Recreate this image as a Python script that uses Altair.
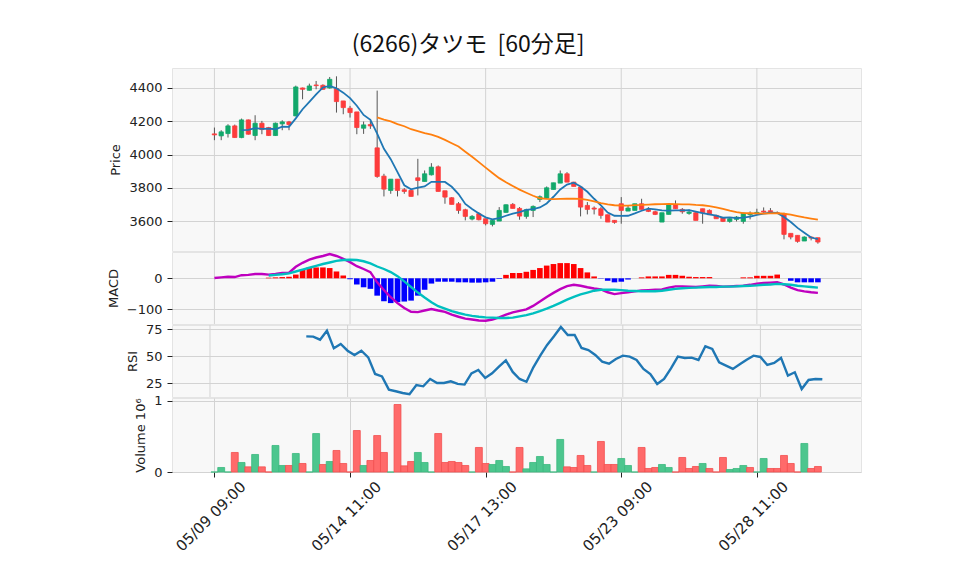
import altair as alt
import pandas as pd

TITLE = "(6266)タツモ\u00a0\u00a0[60分足]"
X_TICKS = [0, 20, 40, 60, 80]
X_LABELS = ["05/09 09:00", "05/14 11:00", "05/17 13:00", "05/23 09:00", "05/28 11:00"]

OPEN = [4124, 4112, 4126, 4172, 4102, 4208, 4114, 4188, 4162, 4114,
        4184, 4196, 4232, 4400, 4386, 4418, 4416, 4400, 4396, 4322,
        4278, 4256, 4158, 4180, 4040, 3870, 3784, 3852, 3788, 3784,
        3860, 3838, 3878, 3926, 3782, 3740, 3704, 3668, 3612, 3644,
        3614, 3580, 3600, 3652, 3700, 3676, 3628, 3664, 3730, 3738,
        3790, 3828, 3884, 3834, 3804, 3694, 3678, 3674, 3638, 3604,
        3704, 3660, 3664, 3704, 3670, 3656, 3594, 3640, 3698, 3670,
        3646, 3650, 3674, 3664, 3634, 3620, 3598, 3610, 3598, 3638,
        3648, 3660, 3662, 3650, 3644, 3526, 3514, 3480, 3504, 3500]
HIGH = [4162, 4146, 4182, 4180, 4216, 4210, 4236, 4202, 4166, 4192,
        4206, 4202, 4414, 4402, 4426, 4442, 4422, 4466, 4470, 4322,
        4292, 4256, 4198, 4204, 4384, 3884, 3852, 3852, 3798, 3784,
        3974, 3904, 3948, 3934, 3782, 3744, 3714, 3674, 3636, 3654,
        3614, 3608, 3684, 3700, 3708, 3684, 3674, 3694, 3754, 3808,
        3830, 3904, 3894, 3834, 3804, 3714, 3688, 3684, 3638, 3606,
        3744, 3694, 3704, 3734, 3684, 3662, 3650, 3704, 3724, 3678,
        3670, 3658, 3674, 3670, 3638, 3620, 3618, 3630, 3650, 3658,
        3674, 3682, 3678, 3658, 3650, 3526, 3514, 3508, 3508, 3500]
LOW = [4086, 4086, 4102, 4100, 4098, 4120, 4086, 4122, 4112, 4112,
       4146, 4146, 4230, 4332, 4384, 4392, 4388, 4396, 4252, 4242,
       4222, 4122, 4124, 4154, 3860, 3748, 3764, 3748, 3764, 3748,
       3754, 3838, 3874, 3778, 3704, 3700, 3644, 3604, 3604, 3604,
       3574, 3568, 3600, 3650, 3676, 3608, 3614, 3624, 3714, 3734,
       3790, 3828, 3834, 3808, 3628, 3640, 3640, 3614, 3594, 3584,
       3584, 3660, 3664, 3670, 3654, 3636, 3594, 3640, 3674, 3644,
       3638, 3604, 3584, 3638, 3614, 3594, 3590, 3598, 3584, 3610,
       3644, 3650, 3648, 3644, 3490, 3490, 3470, 3480, 3484, 3464]
CLOSE = [4118, 4136, 4172, 4102, 4208, 4122, 4188, 4150, 4114, 4188,
         4196, 4180, 4406, 4392, 4412, 4414, 4392, 4452, 4318, 4282,
         4252, 4162, 4178, 4172, 3868, 3792, 3852, 3784, 3778, 3748,
         3844, 3884, 3924, 3778, 3744, 3700, 3664, 3628, 3628, 3608,
         3584, 3604, 3664, 3698, 3676, 3630, 3668, 3688, 3746, 3800,
         3830, 3884, 3834, 3808, 3684, 3670, 3672, 3634, 3594, 3592,
         3664, 3678, 3704, 3670, 3658, 3640, 3650, 3698, 3674, 3656,
         3654, 3604, 3650, 3638, 3614, 3598, 3614, 3624, 3648, 3646,
         3652, 3654, 3648, 3646, 3520, 3504, 3478, 3504, 3498, 3474]
# volume in millions of shares
VOLUME = [0, 0.063, 0, 0.273, 0.133, 0.072, 0.245, 0.072, 0, 0.371,
          0.091, 0.091, 0.259, 0.119, 0, 0.538, 0.105, 0.147, 0.301, 0.119,
          0, 0.580, 0.091, 0.161, 0.510, 0.273, 0, 0.944, 0.086, 0.147,
          0.273, 0.133, 0, 0.538, 0.133, 0.147, 0.133, 0.091, 0, 0.343,
          0.119, 0.105, 0.161, 0.077, 0, 0.343, 0.044, 0.133, 0.217, 0.105,
          0, 0.455, 0.072, 0.063, 0.231, 0.091, 0, 0.427, 0.105, 0.105,
          0.189, 0.091, 0, 0.343, 0.049, 0.063, 0.105, 0.063, 0, 0.203,
          0.049, 0.077, 0.119, 0.049, 0, 0.203, 0.035, 0.049, 0.091, 0.063,
          0, 0.189, 0.049, 0.049, 0.231, 0.119, 0, 0.399, 0.049, 0.077]
MA5 = [None] * 4 + [
    4147, 4148, 4158, 4154, 4156, 4152, 4167, 4166, 4217, 4272,
    4317, 4361, 4403, 4412, 4398, 4372, 4339, 4293, 4238, 4209,
    4126, 4034, 3972, 3894, 3815, 3791, 3801, 3808, 3836, 3836,
    3835, 3806, 3762, 3703, 3673, 3646, 3622, 3610, 3618, 3632,
    3645, 3654, 3667, 3672, 3682, 3706, 3746, 3790, 3819, 3831,
    3808, 3776, 3734, 3694, 3651, 3632, 3631, 3632, 3646, 3662,
    3675, 3670, 3664, 3663, 3664, 3664, 3666, 3657, 3648, 3640,
    3632, 3620, 3622, 3618, 3620, 3626, 3637, 3645, 3650, 3649,
    3624, 3594, 3559, 3530, 3501, 3492]
MA25 = [None] * 24 + [
    4223, 4210, 4199, 4183, 4170, 4152, 4141, 4128, 4119, 4106,
    4088, 4068, 4048, 4017, 3986, 3954, 3921, 3889, 3858, 3833,
    3811, 3789, 3770, 3752, 3737, 3733, 3732, 3733, 3734, 3735,
    3733, 3727, 3719, 3708, 3700, 3695, 3693, 3693, 3696, 3697,
    3699, 3701, 3702, 3703, 3702, 3700, 3700, 3697, 3695, 3690,
    3682, 3673, 3662, 3654, 3648, 3647, 3646, 3645, 3646, 3647,
    3644, 3638, 3630, 3622, 3615, 3608]
MACD = [1, 3, 5, 4, 10, 11, 14, 14, 12, 14,
        17, 18, 37, 50, 60, 67, 72, 78, 72, 63,
        52, 39, 30, 20, -13, -38, -61, -80, -96, -108,
        -109, -104, -99, -104, -108, -117, -124, -130, -133, -136,
        -137, -133, -126, -117, -110, -105, -100, -89, -75, -60,
        -47, -35, -25, -21, -24, -29, -33, -36, -45, -51,
        -48, -45, -42, -39, -38, -37, -36, -30, -26, -26,
        -27, -28, -26, -24, -25, -27, -26, -25, -24, -21,
        -17, -15, -14, -13, -20, -30, -38, -42, -45, -47]
SIGNAL = [None] * 8 + [
    9, 11, 13, 16, 22, 28, 34, 40, 46, 51,
    56, 59, 60, 59, 55, 48, 38, 30, 20, 7,
    -10, -28, -46, -62, -77, -90, -98, -106, -112, -117,
    -121, -124, -126, -127, -128, -128, -127, -123, -119, -113,
    -106, -98, -89, -79, -69, -60, -52, -46, -40, -37,
    -37, -37, -38, -40, -41, -42, -42, -42, -40, -37,
    -34, -32, -31, -30, -29, -28, -28, -27, -27, -26,
    -25, -24, -23, -21, -20, -18, -19, -21, -24, -26,
    -28, -30]
HIST = [None] * 8 + [
    2, 3, 4, 5, 12, 30, 35, 35, 35, 33,
    22, 9, -3, -20, -29, -34, -56, -74, -80, -77,
    -75, -72, -56, -37, -17, -11, -11, -11, -13, -13,
    -14, -14, -13, -11, -2, 11, 17, 17, 21, 27,
    33, 41, 46, 49, 49, 46, 33, 19, 6, -1,
    -8, -13, -11, -4, 0, 3, 6, 6, 6, 11,
    11, 8, 5, 4, 4, 4, 0, 0, 0, 0,
    3, 3, 8, 8, 8, 12, 0, -8, -13, -13,
    -13, -13]
RSI = [None] * 14 + [
    68.5, 68.2, 65.4, 73.7, 57.4, 61.4, 55.2, 51.2, 55.2, 49.0,
    33.6, 31.4, 19.1, 17.6, 16.0, 14.8, 23.4, 22.2, 29.0, 25.3,
    25.3, 26.8, 24.4, 23.8, 34.2, 37.3, 29.9, 34.2, 40.5, 46.3,
    35.5, 29.0, 26.4, 39.8, 50.6, 60.5, 68.5, 77.2, 69.7, 69.7,
    57.7, 55.8, 51.2, 45.0, 43.1, 47.5, 50.6, 49.7, 46.6, 38.3,
    33.6, 24.4, 29.0, 38.9, 49.7, 48.5, 48.8, 46.6, 59.3, 56.8,
    44.4, 41.3, 38.3, 42.6, 46.9, 50.6, 49.4, 42.0, 43.8, 48.5,
    32.1, 35.2, 19.7, 28.1, 29.0, 28.7]

UP, DOWN = "#12a86b", "#fd3c3c"
VUP, VDOWN = "#4cc68e", "#ff6a6a"
VUP_E, VDOWN_E = "#3bb97f", "#f24f4f"
GRID = "#d3d3d3"
FONT = "DejaVu Sans"

n = len(CLOSE)
df = pd.DataFrame({
    "i": list(range(n)), "open": OPEN, "high": HIGH, "low": LOW, "close": CLOSE,
    "vol": VOLUME, "ma5": MA5, "ma25": MA25, "macd": MACD, "signal": SIGNAL,
    "hist": HIST, "rsi": RSI,
})
df["ccol"] = [UP if c >= o else DOWN for o, c in zip(OPEN, CLOSE)]
prev = [CLOSE[0]] + CLOSE[:-1]
df["vfill"] = [VUP if c >= p else VDOWN for c, p in zip(CLOSE, prev)]
df["vedge"] = [VUP_E if c >= p else VDOWN_E for c, p in zip(CLOSE, prev)]
df["hcol"] = ["#ff0000" if (h is not None and h >= 0) else "#0000ff" for h in HIST]
ticks_df = pd.DataFrame({"i": X_TICKS})

XS = alt.Scale(domain=[-5.52, 94.62], nice=False, zero=False)
W = 689

label_expr = " : ".join(
    f"datum.value == {t} ? '{l}'" for t, l in zip(X_TICKS, X_LABELS)) + " : ''"

def xenc(bottom=False):
    if bottom:
        ax = alt.Axis(values=X_TICKS, labelExpr=label_expr, labelAngle=-45,
                      labelAlign="center", labelBaseline="middle", labelPadding=39,
                      labelOffset=-4, labelFontSize=15,
                      tickSize=5, ticks=True, domain=False, grid=True, title=None,
                      labelOverlap=False, labelFlush=False, labelBound=False)
        return alt.X("i:Q", scale=XS, axis=ax)
    return alt.X("i:Q", scale=XS, axis=None)

def vgrid():
    return alt.Chart(ticks_df).mark_rule(color=GRID, strokeWidth=1).encode(x=xenc())

def yaxis(values, title):
    return alt.Axis(values=values, title=title, grid=True, tickSize=5,
                    domain=False, format="d")

base = alt.Chart(df)

# ---------- price panel ----------
PS = alt.Scale(domain=[3420, 4520], nice=False, zero=False)
PAX = yaxis([3600, 3800, 4000, 4200, 4400], "Price")
wick = base.mark_rule(color="#555555", strokeWidth=1).encode(
    x=xenc(), y=alt.Y("low:Q", scale=PS, axis=PAX), y2="high:Q")
body = base.mark_bar(size=4.3, strokeWidth=0.8).encode(
    x=xenc(), y=alt.Y("open:Q", scale=PS, axis=PAX), y2="close:Q",
    fill=alt.Fill("ccol:N", scale=None), stroke=alt.Stroke("ccol:N", scale=None))
ma5 = base.mark_line(color="#1f77b4", strokeWidth=1.8).encode(
    x=xenc(), y=alt.Y("ma5:Q", scale=PS, axis=PAX))
ma25 = base.mark_line(color="#ff7f0e", strokeWidth=1.8).encode(
    x=xenc(), y=alt.Y("ma25:Q", scale=PS, axis=PAX))
price = alt.layer(vgrid(), wick, body, ma5, ma25).properties(width=W, height=183)

# ---------- MACD panel ----------
MS = alt.Scale(domain=[-147.4, 84.8], nice=False, zero=False)
MAX_ = yaxis([0, -100], "MACD")
hist = base.mark_bar(size=5.6).encode(
    x=xenc(), y=alt.Y("hist:Q", scale=MS, axis=MAX_),
    y2=alt.datum(0),
    fill=alt.Fill("hcol:N", scale=None))
macd = base.mark_line(color="#bf00bf", strokeWidth=2.4).encode(
    x=xenc(), y=alt.Y("macd:Q", scale=MS, axis=MAX_))
sig = base.mark_line(color="#00bfbf", strokeWidth=2.4).encode(
    x=xenc(), y=alt.Y("signal:Q", scale=MS, axis=MAX_))
macd_panel = alt.layer(vgrid(), hist, macd, sig).properties(width=W, height=72)

# ---------- RSI panel ----------
RS = alt.Scale(domain=[12.3, 79.0], nice=False, zero=False)
rsi_line = base.mark_line(color="#1f77b4", strokeWidth=2.4).encode(
    x=xenc(), y=alt.Y("rsi:Q", scale=RS, axis=yaxis([25, 50, 75], "RSI")))
rsi_panel = alt.layer(vgrid(), rsi_line).properties(width=W, height=72)

# ---------- Volume panel ----------
VS = alt.Scale(domain=[0, 1.035], nice=False)
vol_panel = base.mark_bar(size=6.9, strokeWidth=0.8).encode(
    x=xenc(bottom=True),
    y=alt.Y("vol:Q", scale=VS, axis=yaxis([0, 1], "Volume  10⁶")),
    fill=alt.Fill("vfill:N", scale=None), stroke=alt.Stroke("vedge:N", scale=None)
).properties(width=W, height=74)

chart = alt.vconcat(price, macd_panel, rsi_panel, vol_panel, spacing=1,
                    bounds="flush").properties(
    title=alt.TitleParams(TITLE, font="Noto Sans CJK JP", fontSize=23,
                          fontWeight="normal", color="#111", anchor="middle",
                          offset=10, dx=-16),
    padding={"left": 98, "top": 26, "right": 5, "bottom": 5},
).configure_axis(
    labelFont=FONT, titleFont=FONT, labelFontSize=13, titleFontSize=13,
    titleFontWeight="normal", labelColor="#222", titleColor="#222",
    gridColor=GRID, gridWidth=1, tickColor="#222", labelPadding=5, titlePadding=6,
).configure_view(fill="#f8f8f8", stroke="#e4e4e4")

chart.save("out.html", embed_options={"renderer": "svg", "actions": False})
